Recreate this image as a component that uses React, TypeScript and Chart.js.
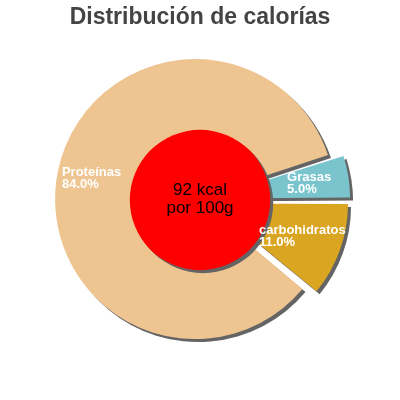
import React, { useEffect, useRef } from "react";
import { Chart, registerables } from "chart.js";

Chart.register(...registerables);

const categories = ["Proteínas", "Grasas", "carbohidratos"];
const percentValues = [84.0, 5.0, 11.0];
const sliceColors = ["#EEC591", "#7AC5CD", "#DAA520"];
const centerText = ["92 kcal", "por 100g"];
const chartTitle = "Distribución de calorías";

const FONT = "'Liberation Sans', Arial, Helvetica, sans-serif";

// label anchor: t = fraction along the slice's angle, f = fraction of radius
const labelPlacement = [
  { t: 0.497, f: 1.038 },
  { t: 0.32, f: 0.66 },
  { t: 0.756, f: 0.504 },
];

const SHADOW = "#646464";

const pieExtras = {
  id: "pieExtras",
  beforeDatasetsDraw(chart: any) {
    const ctx = chart.ctx;
    const dpr = chart.currentDevicePixelRatio || 1;
    ctx.save();
    ctx.shadowColor = SHADOW;
    ctx.shadowOffsetX = 3 * dpr;
    ctx.shadowOffsetY = 3 * dpr;
    ctx.shadowBlur = 0;
  },
  afterDatasetsDraw(chart: any) {
    const ctx = chart.ctx;
    ctx.restore();
    const dpr = chart.currentDevicePixelRatio || 1;
    const meta = chart.getDatasetMeta(0);
    const first = meta.data[0];
    const cx = first.x;
    const cy = first.y;
    const R = first.outerRadius;

    // center disc
    ctx.save();
    ctx.shadowColor = SHADOW;
    ctx.shadowOffsetX = 3 * dpr;
    ctx.shadowOffsetY = 3 * dpr;
    ctx.shadowBlur = 0;
    ctx.beginPath();
    ctx.arc(cx, cy, R * 0.52, 0, Math.PI * 2);
    ctx.fillStyle = "#FF0000";
    ctx.fill();
    ctx.restore();

    ctx.save();
    ctx.fillStyle = "#000000";
    ctx.font = `17px ${FONT}`;
    ctx.textAlign = "center";
    ctx.textBaseline = "alphabetic";
    ctx.fillText(centerText[0], cx, cy - 5);
    ctx.fillText(centerText[1], cx, cy + 12.5);
    ctx.restore();

    // slice labels
    ctx.save();
    ctx.fillStyle = "#FFFFFF";
    ctx.font = `bold 13px ${FONT}`;
    ctx.textAlign = "left";
    ctx.textBaseline = "alphabetic";
    meta.data.forEach((arc: any, i: number) => {
      const p = arc.getProps(["x", "y", "startAngle", "endAngle", "outerRadius"], true);
      const pl = labelPlacement[i];
      const a = p.startAngle + pl.t * (p.endAngle - p.startAngle);
      const px = p.x + Math.cos(a) * pl.f * p.outerRadius;
      const py = p.y + Math.sin(a) * pl.f * p.outerRadius;
      ctx.fillText(categories[i], px, py);
      ctx.fillText(percentValues[i].toFixed(1) + "%", px, py + 12);
    });
    ctx.restore();
  },
};

export default function App() {
  const ref = useRef<HTMLCanvasElement | null>(null);
  useEffect(() => {
    if (!ref.current) return;
    const chart = new Chart(ref.current, {
      type: "pie",
      data: {
        labels: categories,
        datasets: [
          {
            data: percentValues,
            backgroundColor: sliceColors,
            borderWidth: 0,
            offset: [20, 36, 40],
            hoverOffset: 0,
          },
        ],
      },
      options: {
        responsive: false,
        animation: false,
        events: [],
        rotation: 129.6,
        radius: 135,
        layout: { padding: { top: 0, bottom: 35, left: 0, right: 0 } },
        plugins: {
          legend: { display: false },
          tooltip: { enabled: false },
          title: {
            display: true,
            text: chartTitle,
            color: "#444444",
            font: { family: FONT, size: 23, weight: "bold", lineHeight: 1.2 },
            padding: { top: 3.5, bottom: 3.9 },
          },
        },
      } as any,
      plugins: [pieExtras],
    });
    return () => chart.destroy();
  }, []);
  return (
    <div style={{ position: "absolute", left: 0, top: 0, width: 400, height: 400 }}>
      <canvas ref={ref} width={400} height={400} style={{ display: "block" }} />
    </div>
  );
}
